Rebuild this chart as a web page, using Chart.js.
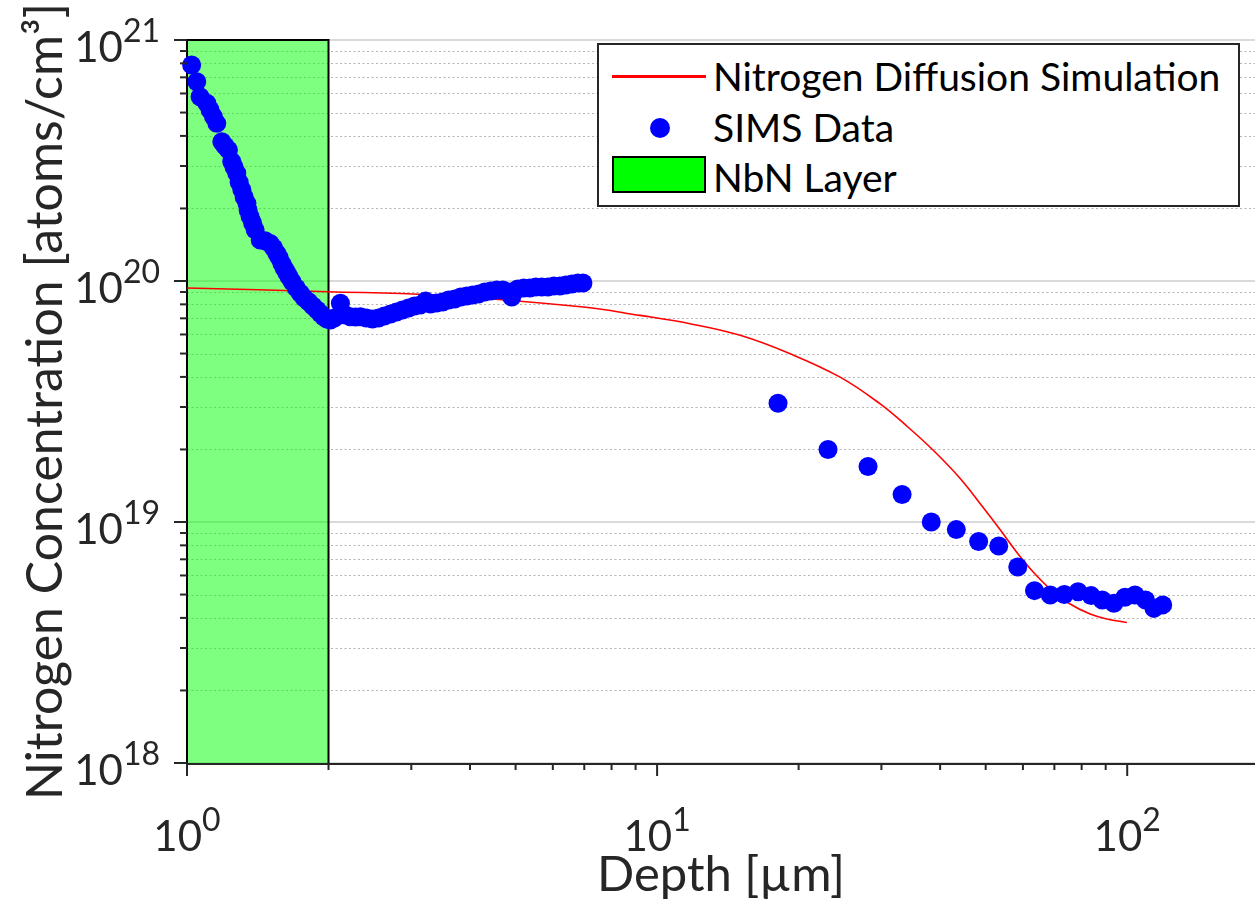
<!DOCTYPE html>
<html><head><meta charset="utf-8">
<script src="https://cdn.jsdelivr.net/npm/chart.js@4.4.1/dist/chart.umd.min.js"></script>
<style>
html,body{margin:0;padding:0;background:#fff;}
#wrap{position:relative;width:1255px;height:905px;overflow:hidden;}
#c{position:absolute;left:0;top:0;}
#legend{position:absolute;left:597px;top:43px;width:639px;height:160px;border:2px solid #262626;background:#fff;font-family:Lato,sans-serif;font-size:39px;color:#000;}
#legend .lbl{position:absolute;left:114px;height:50px;line-height:50px;white-space:nowrap;}
#legend .sw{position:absolute;box-sizing:border-box;}
</style></head>
<body>
<div id="wrap">
<canvas id="c" width="1255" height="905"></canvas>
<div id="legend"></div>
</div>
<script>
// ---- data ----
const seriesNames = ['Nitrogen Diffusion Simulation', 'SIMS Data', 'NbN Layer'];
const xTickExponents = [0, 1, 2];
const yTickExponents = [18, 19, 20, 21];
const nbnLayer = [1, 2];

const simDepth = [1, 2, 3.34, 6.89, 9.20, 11.75, 15.02, 19.19, 24.51, 29.82, 33.98, 38.72, 44.13, 49.48, 53.68, 58.26, 63.17, 68.60, 75.62, 83.42, 90.54, 99.86];
const simConc = [9.35e19, 9.03e19, 8.75e19, 7.82e19, 7.20e19, 6.65e19, 5.95e19, 4.99e19, 3.99e19, 3.09e19, 2.50e19, 1.98e19, 1.515e19, 1.142e19, 9.28e18, 7.48e18, 6.19e18, 5.27e18, 4.57e18, 4.15e18, 3.96e18, 3.83e18];

const simsDepth = [1.023,1.049,1.066,1.102,1.120,1.138,1.157,1.186,1.205,1.225,
 1.245,1.259,1.276,1.291,1.308,1.323,1.341,1.349,1.362,1.379,
 1.396,1.431,1.466,1.503,1.529,1.553,1.571,1.592,1.610,1.632,
 1.650,1.673,1.708,1.742,1.776,1.814,1.852,1.891,1.922,1.953,
 1.984,2.018,2.058,2.120,2.172,2.226,2.282,2.338,2.408,2.480,
 2.555,2.630,2.710,2.790,2.873,2.960,3.048,3.139,3.218,3.297,
 3.395,3.498,3.602,3.710,3.821,3.935,4.053,4.174,4.299,4.426,
 4.559,4.695,4.835,4.907,5.053,5.204,5.360,5.521,5.686,5.856,
 6.031,6.212,6.397,6.589,6.786,6.955,
 18.08,23.1,28.1,33.2,38.3,43.3,48.3,53.3,58.5,63.5,68.6,73.5,78.6,83.8,88.5,93.7,98.9,103.9,109.4,114,119];
const simsConc = [7.88e20,6.71e20,5.81e20,5.46e20,5.12e20,4.81e20,4.51e20,3.78e20,3.63e20,3.50e20,
 3.13e20,2.97e20,2.80e20,2.57e20,2.39e20,2.23e20,2.10e20,1.97e20,1.85e20,1.74e20,
 1.63e20,1.48e20,1.47e20,1.43e20,1.37e20,1.30e20,1.25e20,1.18e20,1.13e20,1.08e20,
 1.04e20,9.94e19,9.35e19,8.89e19,8.49e19,8.20e19,7.88e19,7.58e19,7.33e19,7.11e19,
 6.96e19,6.89e19,7.02e19,8.08e19,7.23e19,7.11e19,7.09e19,7.11e19,7.02e19,6.96e19,
 7.02e19,7.16e19,7.30e19,7.44e19,7.58e19,7.73e19,7.88e19,7.96e19,8.26e19,8.03e19,
 8.11e19,8.18e19,8.34e19,8.42e19,8.58e19,8.66e19,8.75e19,8.84e19,9.00e19,9.09e19,
 9.18e19,9.18e19,9.00e19,8.58e19,9.27e19,9.35e19,9.35e19,9.44e19,9.44e19,9.44e19,
 9.53e19,9.53e19,9.62e19,9.72e19,9.81e19,9.81e19,
 3.11e19,2.0e19,1.70e19,1.30e19,1.0e19,9.3e18,8.3e18,7.95e18,6.5e18,5.19e18,4.98e18,5.0e18,5.14e18,4.95e18,4.75e18,4.6e18,4.87e18,4.98e18,4.75e18,4.38e18,4.53e18];

// ---- style ----
const X_MIN = 1, X_MAX = 187, Y_MIN = 1e18, Y_MAX = 1e21;
const FONT = 'Lato, sans-serif';
const AXIS_COLOR = '#262626';
const TICK_BASE = 42, TICK_EXP = 32;
const colors = ['#ff0000', '#0000ff', 'rgba(0,255,0,0.5)'];

const axisPlugin = {
  id: 'matlabAxes',
  beforeDatasetsDraw(chart) {
    const {ctx, chartArea: a, scales: {x, y}} = chart;
    ctx.save();
    // minor grid (dotted)
    ctx.strokeStyle = 'rgba(150,150,150,0.7)';
    ctx.lineWidth = 1.2;
    ctx.setLineDash([2, 2.5]);
    for (let i = 0; i < yTickExponents.length - 1; i++) {
      for (let m = 2; m <= 9; m++) {
        const py = Math.round(y.getPixelForValue(m * Math.pow(10, yTickExponents[i]))) + 0.5;
        ctx.beginPath(); ctx.moveTo(a.left, py); ctx.lineTo(a.right, py); ctx.stroke();
      }
    }
    // major grid
    ctx.setLineDash([]);
    ctx.strokeStyle = '#dadada';
    ctx.lineWidth = 2;
    yTickExponents.forEach(e => {
      const py = y.getPixelForValue(Math.pow(10, e));
      ctx.beginPath(); ctx.moveTo(a.left, py); ctx.lineTo(a.right, py); ctx.stroke();
    });
    // axis lines
    ctx.strokeStyle = AXIS_COLOR;
    ctx.lineWidth = 2;
    ctx.beginPath(); ctx.moveTo(a.left, a.top); ctx.lineTo(a.left, a.bottom + 1); ctx.lineTo(a.right, a.bottom + 1); ctx.stroke();
    ctx.restore();
  },
  afterDraw(chart) {
    const {ctx, chartArea: a, scales: {x, y}} = chart;
    ctx.save();
    ctx.strokeStyle = AXIS_COLOR;
    ctx.lineWidth = 2;
    // y ticks
    yTickExponents.forEach((e, i) => {
      const py = y.getPixelForValue(Math.pow(10, e));
      ctx.beginPath(); ctx.moveTo(a.left - 13, py); ctx.lineTo(a.left, py); ctx.stroke();
      if (i < yTickExponents.length - 1) {
        for (let m = 2; m <= 9; m++) {
          const q = y.getPixelForValue(m * Math.pow(10, e));
          ctx.beginPath(); ctx.moveTo(a.left - 7, q); ctx.lineTo(a.left, q); ctx.stroke();
        }
      }
    });
    // x ticks
    xTickExponents.forEach(e => {
      const px = x.getPixelForValue(Math.pow(10, e));
      ctx.beginPath(); ctx.moveTo(px, a.bottom); ctx.lineTo(px, a.bottom + 13); ctx.stroke();
      for (let m = 2; m <= 9; m++) {
        const v = m * Math.pow(10, e);
        if (v > X_MAX) break;
        const q = x.getPixelForValue(v);
        ctx.beginPath(); ctx.moveTo(q, a.bottom); ctx.lineTo(q, a.bottom + 7); ctx.stroke();
      }
    });
    // labels
    ctx.fillStyle = AXIS_COLOR;
    const drawPow = (exp, xPos, baseY, align) => {
      ctx.font = TICK_BASE + 'px ' + FONT; const wb = ctx.measureText('10').width;
      ctx.font = TICK_EXP + 'px ' + FONT; const we = ctx.measureText(String(exp)).width;
      const x0 = align === 'right' ? xPos - wb - we : xPos - (wb + we) / 2;
      ctx.textAlign = 'left'; ctx.textBaseline = 'alphabetic';
      ctx.font = TICK_BASE + 'px ' + FONT; ctx.fillText('10', x0, baseY);
      ctx.font = TICK_EXP + 'px ' + FONT; ctx.fillText(String(exp), x0 + wb, baseY - 20);
    };
    yTickExponents.forEach(e => {
      const py = y.getPixelForValue(Math.pow(10, e));
      drawPow(e, 160, py + 22, 'right');
    });
    xTickExponents.forEach(e => {
      const px = x.getPixelForValue(Math.pow(10, e));
      drawPow(e, px, a.bottom + 88, 'center');
    });
    ctx.restore();
  }
};

const ctx = document.getElementById('c').getContext('2d');
const chart = new Chart(ctx, {
  type: 'scatter',
  data: {
    datasets: [
      {
        label: seriesNames[0],
        data: simDepth.map((d, i) => ({x: d, y: simConc[i]})),
        showLine: true, borderColor: colors[0], borderWidth: 1.6, pointRadius: 0,
        tension: 0.4, fill: false, order: 1
      },
      {
        label: seriesNames[1],
        data: simsDepth.map((d, i) => ({x: d, y: simsConc[i]})),
        showLine: false, pointRadius: 9.5, pointBackgroundColor: colors[1],
        pointBorderWidth: 0, backgroundColor: colors[1], borderColor: colors[1], clip: false, order: 0
      },
      {
        label: seriesNames[2],
        data: [{x: nbnLayer[0], y: Y_MIN}, {x: nbnLayer[0], y: Y_MAX}, {x: nbnLayer[1], y: Y_MAX}, {x: nbnLayer[1], y: Y_MIN}],
        showLine: true, fill: 'start', backgroundColor: colors[2], borderColor: '#000', borderWidth: 2,
        pointRadius: 0, tension: 0, clip: false, order: 2
      }
    ]
  },
  options: {
    responsive: false, animation: false,
    layout: {autoPadding: false, padding: {top: 40, right: 0, left: 0, bottom: 0}},
    plugins: {legend: {display: false}, tooltip: {enabled: false}},
    scales: {
      x: {
        type: 'logarithmic', min: X_MIN, max: X_MAX, position: 'bottom',
        grid: {display: false}, border: {display: false}, ticks: {display: false},
        title: {display: true, text: 'Depth [µm]', color: AXIS_COLOR, font: {family: FONT, size: 49}, padding: {top: 0, bottom: 0}},
        afterFit(s) { s.height = 142; }
      },
      y: {
        type: 'logarithmic', min: Y_MIN, max: Y_MAX, position: 'left',
        grid: {display: false}, border: {display: false}, ticks: {display: false},
        title: {display: true, text: 'Nitrogen Concentration [atoms/cm³]', color: AXIS_COLOR, font: {family: FONT, size: 50}, padding: {top: 16, bottom: 0}},
        afterFit(s) { s.width = 187; }
      }
    }
  },
  plugins: [axisPlugin]
});

// ---- legend (HTML) ----
const lg = document.getElementById('legend');
const rows = [5.5, 56.5, 106.5];
seriesNames.forEach((name, i) => {
  const sw = document.createElement('div');
  sw.className = 'sw';
  if (i === 0) { Object.assign(sw.style, {left: '13px', top: '29.5px', width: '94px', height: '3px', background: colors[0]}); }
  if (i === 1) { Object.assign(sw.style, {left: '51px', top: '73px', width: '20px', height: '20px', borderRadius: '50%', background: colors[1]}); }
  if (i === 2) { Object.assign(sw.style, {left: '13px', top: '111px', width: '94px', height: '37px', background: '#00ff00', border: '2px solid #000'}); }
  lg.appendChild(sw);
  const t = document.createElement('div');
  t.className = 'lbl';
  t.style.top = rows[i] + 'px';
  t.textContent = name;
  lg.appendChild(t);
});
</script>
</body></html>
